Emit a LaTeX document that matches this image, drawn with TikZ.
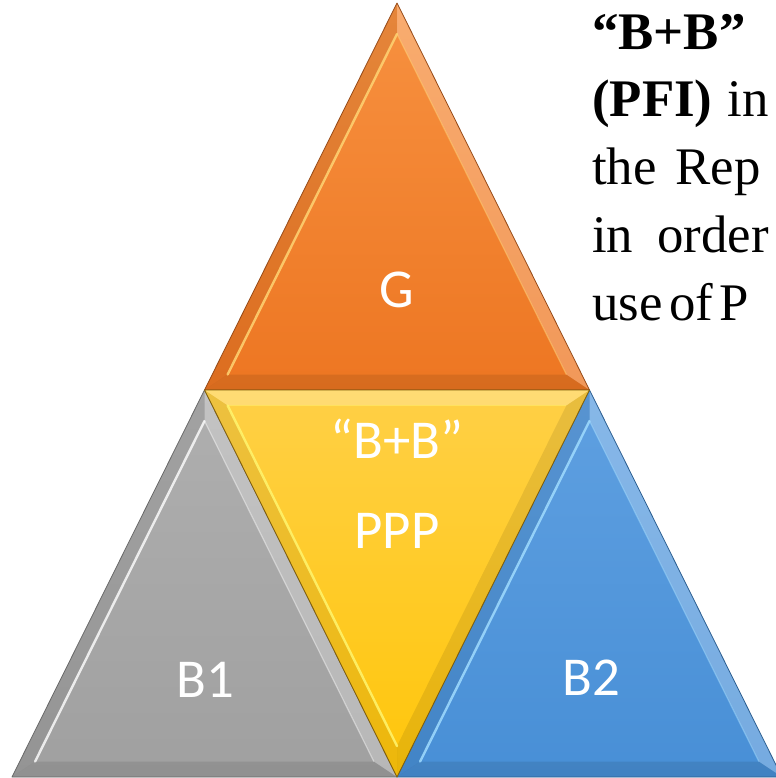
\documentclass[tikz,border=0pt]{standalone}
\usepackage{fontspec}
\setmainfont{Liberation Serif}
\newfontfamily\calibri{Carlito}
\usetikzlibrary{calc}

\definecolor{orgtop}{RGB}{247,145,64}
\definecolor{orgbot}{RGB}{237,118,34}
\definecolor{orgdk}{RGB}{150,75,25}
\definecolor{orghl}{RGB}{255,212,115}
\definecolor{grytop}{RGB}{175,175,175}
\definecolor{grybot}{RGB}{160,160,160}
\definecolor{grydk}{RGB}{105,105,105}
\definecolor{gryhl}{RGB}{250,250,250}
\definecolor{yeltop}{RGB}{255,208,70}
\definecolor{yelbot}{RGB}{255,198,10}
\definecolor{yeldk}{RGB}{130,95,10}
\definecolor{yelhl}{RGB}{255,245,110}
\definecolor{blutop}{RGB}{95,160,225}
\definecolor{blubot}{RGB}{72,143,214}
\definecolor{bludk}{RGB}{45,95,145}
\definecolor{bluhl}{RGB}{160,220,255}

\tikzset{
  lbl/.style={text=white, inner sep=0pt, anchor=base, font=\calibri\fontsize{55}{60}\selectfont},
  txt/.style={inner sep=0pt, anchor=base west, font=\fontsize{53}{67}\selectfont},
}

\begin{document}
\begin{tikzpicture}[x=1bp,y=-1bp]
\useasboundingbox (0,0) rectangle (776,778);
\clip (0,0) rectangle (776,778);

\coordinate (base) at (397,3);
\path (base) +(0,0)        coordinate (top)
             +(-192.5,387) coordinate (ml)
             +(192.5,387)  coordinate (mr)
             +(-385,774)   coordinate (bl)
             +(0,774)      coordinate (bm)
             +(385,774)    coordinate (br)
;

\foreach \p/\q/\r/\ct/\cb/\cd/\ch in {ml/top/mr/orgtop/orgbot/orgdk/orghl,
                                      bl/ml/bm/grytop/grybot/grydk/gryhl,
                                      bm/mr/br/blutop/blubot/bludk/bluhl,
                                      bm/ml/mr/yeltop/yelbot/yeldk/yelhl}
{
  \coordinate (cen) at ($(\p)!0.5!(\r)!1/3!(\q)$);
  \coordinate (pin) at ($(\p)!0.12!(cen)$);
  \coordinate (qin) at ($(\q)!0.12!(cen)$);
  \coordinate (rin) at ($(\r)!0.12!(cen)$);
  \shade[top color=\ct, bottom color=\cb] (\p) -- (\q) -- (\r) -- cycle;
  \fill[white, opacity=0.25] (\q) -- (\r) -- (rin) -- (qin) -- cycle;
  \fill[black, opacity=0.07] (\p) -- (\q) -- (qin) -- (pin) -- cycle;
  \fill[black, opacity=0.09] (\r) -- (\p) -- (pin) -- (rin) -- cycle;
  \draw[\ch, opacity=0.85, line width=2.4bp, line cap=round] (pin) -- (qin);
  \draw[\ch, opacity=0.45, line width=1.2bp] (qin) -- (rin);
  \draw[\cd, line width=0.8bp, line join=round] (\p) -- (\q) -- (\r) -- cycle;
}

\node[lbl] (g)   at (397,307) {G};
\node[lbl] (bb)  at (397,458) {“B+B”};
\node[lbl] (ppp) at (397,548) {PPP};
\node[lbl] (b1)  at (205,697) {B1};
\node[lbl] (b2)  at (591,695) {B2};

\node[txt] (l1) at (592,50)  {\textbf{“B+B”}};
\node[txt] (l2) at (592,116) {\textbf{(PFI)}\hspace{15bp}in};
\node[txt] (l3) at (592,184) {the\hspace{19bp}Rep};
\node[txt] (l4) at (592,252) {in\hspace{24bp}order};
\node[txt] (l5) at (592,320) {use\hspace{7bp}of\hspace{6bp}P};

\end{tikzpicture}
\end{document}
